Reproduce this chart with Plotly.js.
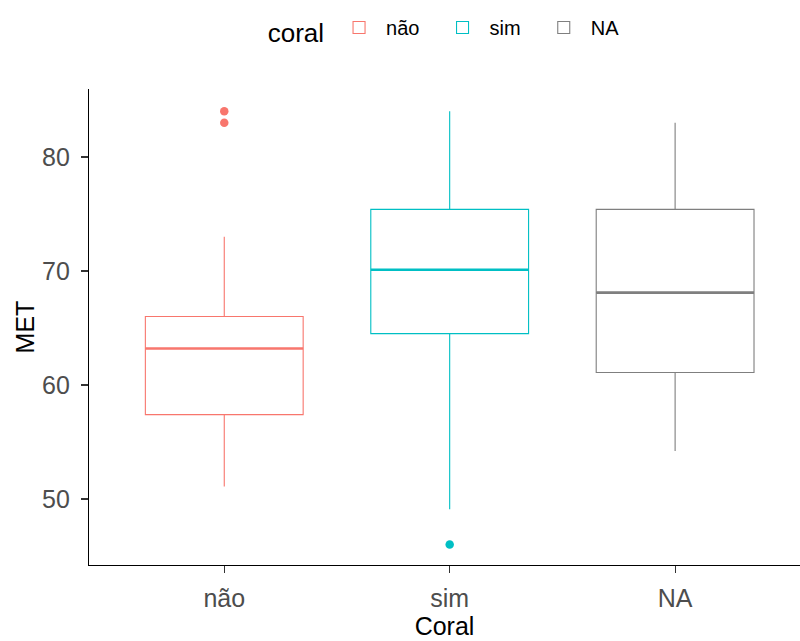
<!DOCTYPE html>
<html>
<head>
<meta charset="utf-8">
<script src="https://cdn.plot.ly/plotly-3.0.1.min.js"></script>
<style>html,body{margin:0;padding:0;background:#fff;}#chart{width:800px;height:641px;}</style>
</head>
<body>
<div id="chart"></div>
<script>
// Data
const categories = ["não", "sim", "NA"];
const lowerWhisker = [51.1, 49.1, 54.2];
const q1Values = [57.4, 64.5, 61.1];
const medianValues = [63.2, 70.1, 68.1];
const q3Values = [66.0, 75.4, 75.4];
const upperWhisker = [73.0, 84.0, 83.0];
const outlierValues = [[84.0, 83.0], [46.0], []];
const colors = ["#F8766D", "#00BFC4", "#7F7F7F"];
const legendTitle = "coral";
const xTitle = "Coral";
const yTitle = "MET";
const yTicks = [50, 60, 70, 80];

const FONT = "Liberation Sans, Arial, sans-serif";
const PAD = "\u00a0\u00a0";
const traces = [];
categories.forEach((cat, i) => {
  traces.push({
    type: "box", name: cat + PAD, legendgroup: cat, x: [i],
    q1: [q1Values[i]], median: [medianValues[i]], q3: [q3Values[i]],
    lowerfence: [lowerWhisker[i]], upperfence: [upperWhisker[i]],
    width: 0.7, whiskerwidth: 0, boxpoints: false,
    line: {color: colors[i], width: 1.1}, fillcolor: "#ffffff",
    hoverinfo: "skip", showlegend: true
  });
  traces.push({
    type: "box", name: cat, legendgroup: cat, x: [i],
    q1: [medianValues[i]], median: [medianValues[i]], q3: [medianValues[i]],
    lowerfence: [medianValues[i]], upperfence: [medianValues[i]],
    width: 0.7, whiskerwidth: 0, boxpoints: false,
    line: {color: colors[i], width: 2.6}, fillcolor: "rgba(0,0,0,0)",
    hoverinfo: "skip", showlegend: false
  });
  if (outlierValues[i].length) {
    traces.push({
      type: "scatter", mode: "markers", name: cat, legendgroup: cat,
      x: outlierValues[i].map(() => i), y: outlierValues[i],
      marker: {color: colors[i], size: 8.5}, showlegend: false, hoverinfo: "skip"
    });
  }
});

const layout = {
  width: 800, height: 641,
  margin: {l: 89, r: 0, t: 89, b: 76},
  paper_bgcolor: "#ffffff", plot_bgcolor: "#ffffff",
  font: {family: FONT, color: "#000000"},
  showlegend: true,
  boxmode: "overlay",
  legend: {
    orientation: "h", x: 0.508, xanchor: "center", y: 1.124, yanchor: "middle",
    title: {text: legendTitle, font: {size: 26, color: "#000"}, side: "left"},
    font: {size: 20, color: "#000"}, itemwidth: 44, traceorder: "normal"
  },
  xaxis: {
    type: "linear", range: [-0.6, 2.554],
    tickvals: categories.map((c, i) => i), ticktext: categories,
    showgrid: false, zeroline: false, showline: true, linecolor: "#000", linewidth: 1.1,
    ticks: "outside", ticklen: 7, tickcolor: "#333", tickwidth: 1.1,
    tickfont: {size: 25, color: "#4D4D4D"}, ticklabelstandoff: 4,
    title: {text: xTitle, font: {size: 25, color: "#000"}, standoff: 6}
  },
  yaxis: {
    range: [44.21, 85.96], tickvals: yTicks,
    showgrid: false, zeroline: false, showline: true, linecolor: "#000", linewidth: 1.1,
    ticks: "outside", ticklen: 7, tickcolor: "#333", tickwidth: 1.1,
    tickfont: {size: 25, color: "#4D4D4D"}, ticklabelstandoff: 6,
    title: {text: yTitle, font: {size: 25, color: "#000"}, standoff: 0}
  }
};
Plotly.newPlot("chart", traces, layout, {displayModeBar: false, staticPlot: true});
</script>
</body>
</html>
